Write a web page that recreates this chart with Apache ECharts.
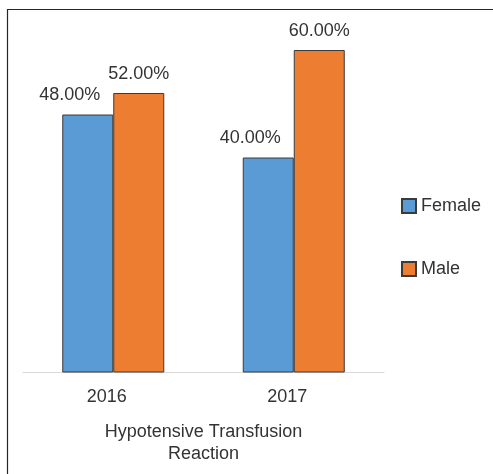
<!DOCTYPE html>
<html>
<head>
<meta charset="utf-8">
<script src="https://cdn.jsdelivr.net/npm/echarts@6/dist/echarts.min.js"></script>
<style>
  html, body { margin: 0; padding: 0; background: #fff; }
  #chart { width: 493px; height: 474px; }
</style>
</head>
<body>
<div id="chart"></div>
<script>
const categories = ['2016', '2017'];
const femaleValues = [48, 40];
const maleValues = [52, 60];
const axisTitle = 'Hypotensive Transfusion\nReaction';

const chart = echarts.init(document.getElementById('chart'));
const font = 'Liberation Sans, Arial, sans-serif';

const labelStyle = {
  show: true,
  position: 'top',
  distance: 10,
  fontFamily: font,
  fontSize: 18,
  color: '#333',
  formatter: p => p.value.toFixed(2) + '%'
};

chart.setOption({
  animation: false,
  graphic: [{
    type: 'rect',
    shape: { x: 7.5, y: 9.5, width: 520, height: 520 },
    style: { fill: 'none', stroke: '#262626', lineWidth: 1.2 },
    silent: true
  }],
  grid: { left: 23, right: 109, top: 50, bottom: 101.5 },
  legend: {
    orient: 'vertical',
    left: 401,
    top: 197,
    padding: 0,
    icon: 'rect',
    itemWidth: 14,
    itemHeight: 14,
    itemGap: 45,
    textStyle: { fontFamily: font, fontSize: 18, color: '#333' },
    data: ['Female', 'Male']
  },
  xAxis: {
    type: 'category',
    data: categories,
    name: axisTitle,
    nameLocation: 'middle',
    nameGap: 49,
    nameTextStyle: { fontFamily: font, fontSize: 18, color: '#333', lineHeight: 22 },
    axisLine: { lineStyle: { color: '#d9d9d9', width: 1 } },
    axisTick: { show: false },
    axisLabel: { fontFamily: font, fontSize: 18, color: '#333', margin: 16, padding: [0, 13, 0, 0] }
  },
  yAxis: {
    type: 'value',
    min: 0,
    max: 60,
    show: false
  },
  series: [
    {
      name: 'Female',
      type: 'bar',
      data: femaleValues,
      barWidth: 51,
      barGap: '0%',
      itemStyle: { color: '#5B9BD5', borderColor: '#3a3a3a', borderWidth: 1 },
      label: Object.assign({}, labelStyle, { offset: [-18, 0] })
    },
    {
      name: 'Male',
      type: 'bar',
      data: maleValues,
      barWidth: 51,
      barGap: '0%',
      itemStyle: { color: '#ED7D31', borderColor: '#3a3a3a', borderWidth: 1 },
      label: labelStyle
    }
  ]
});
</script>
</body>
</html>
